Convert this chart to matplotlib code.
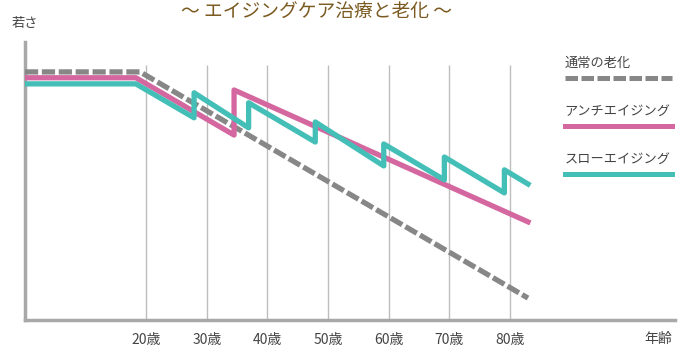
import matplotlib.pyplot as plt
from matplotlib.lines import Line2D

plt.rcParams['font.family'] = ['Noto Sans CJK JP', 'DejaVu Sans']

# ages (x) and "youth" level (0-100)
decades = [20, 30, 40, 50, 60, 70, 80]
tick_labels = ['20歳', '30歳', '40歳', '50歳', '60歳', '70歳', '80歳']

normal_age = [0, 19, 83]
normal_val = [89.2, 89.2, 7.9]

anti_age = [0, 18.3, 34.5, 34.5, 83]
anti_val = [87.1, 87.1, 66.5, 82.7, 35.3]

slow_age = [0, 18.3, 27.9, 27.9, 36.9, 36.9, 47.9, 47.9, 59.2, 59.2, 69.2, 69.2, 79.1, 79.1, 83]
slow_val = [84.9, 84.9, 72.7, 81.7, 69.1, 78.1, 64.0, 71.2, 55.4, 63.3, 50.4, 58.6, 45.7, 54.0, 48.9]

labels = ['通常の老化', 'アンチエイジング', 'スローエイジング']
gray = '#878787'
pink = '#d4679f'
teal = '#44bfb7'
dash = (2.5, 0.7)

fig = plt.figure(figsize=(6.94, 3.46), dpi=100)
ax = fig.add_axes([0.036, 0.075, 0.937, 0.804])
ax.set_xlim(0, 107.3)
ax.set_ylim(0, 100)

ax.vlines(decades, 0, 91.7, color='#bdbdbd', lw=1.0, zorder=1)

ax.plot(normal_age, normal_val, color=gray, lw=3.8, dashes=dash, zorder=3)
ax.plot(anti_age, anti_val, color=pink, lw=3.8, zorder=4)
ax.plot(slow_age, slow_val, color=teal, lw=3.8, zorder=5)

for s in ['top', 'right']:
    ax.spines[s].set_visible(False)
for s in ['left', 'bottom']:
    ax.spines[s].set_color('#a8a8a8')
    ax.spines[s].set_linewidth(2.5)

ax.set_xticks(decades)
ax.set_xticklabels(tick_labels, fontsize=10, color='#444444')
ax.tick_params(axis='x', length=0, pad=9)
ax.set_yticks([])

# legend, drawn at the right side
colors = [gray, pink, teal]
styles = [dash, None, None]
leg_y = [0.870, 0.698, 0.525]
for lab, c, d, yy in zip(labels, colors, styles, leg_y):
    ax.text(0.83, yy + 0.03, lab, transform=ax.transAxes, fontsize=9.5,
            color='#444444', ha='left', va='bottom')
    ln = Line2D([0.83, 0.995], [yy, yy], transform=ax.transAxes, color=c,
                lw=3.6, clip_on=False)
    if d:
        ln.set_dashes(d)
    ax.add_line(ln)

fig.text(0.017, 0.933, '若さ', fontsize=9.5, color='#444444', ha='left', va='center')
fig.text(0.948, 0.02, '年齢', fontsize=10, color='#444444', ha='center', va='center')
fig.text(0.456, 0.965, '〜 エイジングケア治療と老化 〜', fontsize=13.5, color='#7a5a20',
         ha='center', va='center')

fig.savefig('out.png', dpi=100)
